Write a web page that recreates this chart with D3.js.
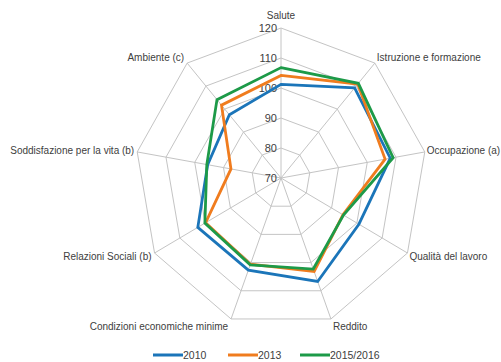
<!DOCTYPE html>
<html>
<head>
<meta charset="utf-8">
<script src="https://cdn.jsdelivr.net/npm/d3@7"></script>
<style>
  body { margin: 0; background: #fff; }
  svg { display: block; }
</style>
</head>
<body>
<svg></svg>
<script>
const axesLabels = ['Salute', 'Istruzione e formazione', 'Occupazione (a)', 'Qualità del lavoro', 'Reddito',
  'Condizioni economiche minime', 'Relazioni Sociali (b)', 'Soddisfazione per la vita (b)', 'Ambiente (c)'];
const seriesNames = ['2010', '2013', '2015/2016'];
const values2010 = [101.2, 109.2, 108.0, 100.8, 106.7, 102.7, 102.9, 95.5, 97.5];
const values2013 = [104.2, 110.9, 106.2, 94.5, 103.2, 100.6, 99.8, 87.4, 101.7];
const values2016 = [106.8, 111.2, 109.0, 94.7, 102.3, 100.8, 100.1, 95.8, 104.1];
const tickValues = [70, 80, 90, 100, 110, 120];

const WIDTH = 501;
const HEIGHT = 362;
const CX = 281;
const CY = 178;
const colors = ['#1b75b9', '#f07c1e', '#1d9a48'];
const seriesValues = [values2010, values2013, values2016];

const svg = d3.select('svg').
attr('width', WIDTH).
attr('height', HEIGHT).
attr('font-family', '"Liberation Sans", Arial, sans-serif');

// the picture is a little narrower than it is tall
const rX = d3.scaleLinear().domain([70, 120]).range([0, 146]);
const rY = d3.scaleLinear().domain([70, 120]).range([0, 150]);
const angle = d3.scaleLinear().domain([0, axesLabels.length]).range([0, 2 * Math.PI]);

const px = (i, v) => CX + rX(v) * Math.sin(angle(i));
const py = (i, v) => CY - rY(v) * Math.cos(angle(i));

const grid = svg.append('g').
attr('fill', 'none').
attr('stroke', '#c4c4c4').
attr('stroke-width', 1);

grid.selectAll('polygon').
data(tickValues.slice(1)).
join('polygon').
attr('points', v => axesLabels.map((a, i) => `${px(i, v)},${py(i, v)}`).join(' '));

grid.selectAll('line').
data(axesLabels).
join('line').
attr('x1', CX).
attr('y1', CY).
attr('x2', (d, i) => px(i, 120)).
attr('y2', (d, i) => py(i, 120));

svg.append('g').
attr('font-size', '11px').
attr('fill', '#404040').
attr('text-anchor', 'end').
selectAll('text').
data(tickValues).
join('text').
attr('x', CX - 4).
attr('y', v => CY - rY(v)).
attr('dy', '0.35em').
text(v => v);

const lineG = svg.append('g').
attr('fill', 'none').
attr('stroke-width', 2.8).
attr('stroke-linejoin', 'miter');

lineG.selectAll('polygon').
data(seriesValues).
join('polygon').
attr('stroke', (d, k) => colors[k]).
attr('points', vals => vals.map((v, i) => `${px(i, v)},${py(i, v)}`).join(' '));

svg.append('g').
attr('font-size', '10px').
attr('fill', '#404040').
selectAll('text').
data(axesLabels).
join('text').
attr('x', (d, i) => {
  const s = Math.sin(angle(i));
  return px(i, 120) + (Math.abs(s) < 0.1 ? 0 : s > 0 ? 2 : -3);
}).
attr('y', (d, i) => {
  const c = Math.cos(angle(i));
  return py(i, 120) + (i === 0 ? -13 : -c * 7.5);
}).
attr('dy', '0.35em').
attr('text-anchor', (d, i) => {
  const s = Math.sin(angle(i));
  return Math.abs(s) < 0.1 ? 'middle' : s > 0 ? 'start' : 'end';
}).
text(d => d);

// --legend
const legendX = d3.scaleOrdinal().domain(seriesNames).range([153, 228, 300]);
const legend = svg.append('g').
selectAll('g').
data(seriesNames).
join('g').
attr('transform', d => `translate(${legendX(d)}, 355)`);

legend.append('line').
attr('x1', 0).
attr('x2', 30).
attr('stroke', (d, k) => colors[k]).
attr('stroke-width', 3);

legend.append('text').
attr('x', 30).
attr('dy', '0.35em').
attr('font-size', '10.5px').
attr('fill', '#404040').
text(d => d);
</script>
</body>
</html>
